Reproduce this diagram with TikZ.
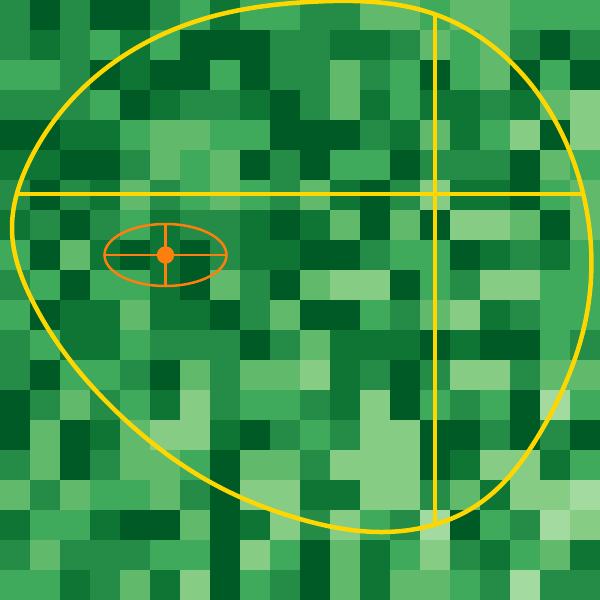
\documentclass[tikz,border=0pt]{standalone}
\usetikzlibrary{hobby}
\definecolor{g1}{HTML}{005A26}
\definecolor{g2}{HTML}{0F7535}
\definecolor{g3}{HTML}{248C47}
\definecolor{g4}{HTML}{3FA95C}
\definecolor{g5}{HTML}{61B96C}
\definecolor{g6}{HTML}{86CC84}
\definecolor{g7}{HTML}{A3DA9F}
\definecolor{gold}{HTML}{FFD700}
\definecolor{orng}{HTML}{FF7F0E}
\tikzset{
  goldline/.style={draw=gold, line width=4.5pt},
  orangeline/.style={draw=orng, line width=2.5pt},
}
\begin{document}
\begin{tikzpicture}[x=1pt,y=-1pt]
\useasboundingbox (0,0) rectangle (600,600);
\foreach \rowvals [count=\r from 0] in {
{3,1,3,1,1,3,4,2,4,4,3,3,5,5,4,5,5,4,4,4},
{3,2,3,4,2,4,1,1,1,3,3,2,2,3,5,4,5,3,1,3},
{4,4,3,1,2,1,1,4,1,3,3,5,3,4,1,4,5,1,4,1},
{3,3,3,4,1,2,3,3,2,1,3,5,2,4,2,2,3,2,5,6},
{1,1,2,2,4,5,5,4,4,1,1,1,3,2,5,2,4,6,1,6},
{2,2,1,1,3,5,4,5,1,3,1,4,4,1,3,3,3,1,5,4},
{3,1,3,2,5,3,4,5,4,3,5,2,1,3,6,2,2,1,4,5},
{2,3,1,3,4,2,3,3,2,1,2,5,1,5,1,6,6,5,1,5},
{4,1,5,2,1,2,1,3,2,2,1,1,3,4,4,1,2,3,2,4},
{3,4,1,4,4,2,1,5,3,1,5,6,6,1,4,3,6,6,4,4},
{4,1,2,2,5,2,2,1,3,5,1,1,4,3,5,6,2,3,4,4},
{3,4,2,2,4,3,3,3,1,3,5,2,2,2,1,2,1,1,4,3},
{3,1,4,4,3,1,5,3,5,5,6,2,3,1,3,6,6,3,5,5},
{1,3,5,3,4,2,6,3,4,4,3,2,6,1,4,3,4,1,7,4},
{1,5,1,2,5,6,6,2,1,3,4,3,6,6,1,1,3,1,3,1},
{3,5,1,3,5,5,4,1,5,5,3,6,6,6,1,2,6,6,2,4},
{5,3,5,4,4,5,3,1,6,6,2,2,6,6,3,5,2,6,6,7},
{2,4,4,2,1,1,5,1,2,6,3,6,4,3,7,1,4,3,7,6},
{3,5,3,3,3,4,4,1,6,4,1,5,2,4,6,3,2,4,5,2},
{4,4,2,3,5,2,6,1,4,3,1,5,2,5,5,4,3,7,3,3}}{
  \foreach \v [count=\c from 0] in \rowvals {
    \fill[fill=g\v] (\c*30,\r*30) rectangle ++(30.5,30.5);
  }
}
% yellow closed curve
\draw[goldline] plot[closed hobby] coordinates {
 (318,1.5) (437,15) (533,87) (583,193) (589,300) (540,433)
 (480,503) (380,532) (300,519) (210,482) (120,415)
 (32,300) (12,230) (30,160) (100,73) (200,20)};
% yellow cross lines
\coordinate (hl) at (15,194);
\coordinate (hr) at (585,194);
\coordinate (vt) at (435,14);
\coordinate (vb) at (435,524);
\draw[goldline, line width=4pt] (hl) -- (hr);
\draw[goldline, line width=4pt] (vt) -- (vb);
% orange target
\coordinate (ctr) at (165.5,255);
\draw[orangeline] (ctr) ellipse [x radius=61, y radius=31];
\coordinate (el) at (104.5,255);
\coordinate (er) at (226.5,255);
\coordinate (et) at (165.5,224);
\coordinate (eb) at (165.5,286);
\draw[orangeline] (el) -- (er);
\draw[orangeline] (et) -- (eb);
\fill[orng] (ctr) circle (8.7);
\end{tikzpicture}
\end{document}
